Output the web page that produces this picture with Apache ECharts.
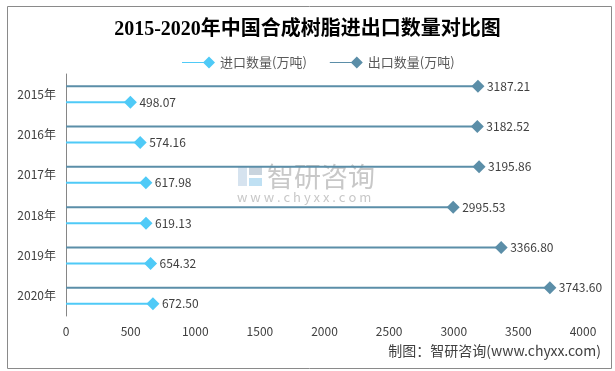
<!DOCTYPE html>
<html><head><meta charset="utf-8">
<script src="https://cdn.jsdelivr.net/npm/echarts@6/dist/echarts.min.js"></script>
<style>html,body{margin:0;padding:0;background:#fff}#c{width:615px;height:371px}</style>
</head><body><div id="c"></div>
<script>
const years = ['2015年','2016年','2017年','2018年','2019年','2020年'];
const importVals = [498.07, 574.16, 617.98, 619.13, 654.32, 672.50];
const exportVals = [3187.21, 3182.52, 3195.86, 2995.53, 3366.80, 3743.60];
const xTicks = {min: 0, max: 4000, interval: 500};
const importName = '进口数量(万吨)';
const exportName = '出口数量(万吨)';

const cImp = '#4fcaf7', cExp = '#5b8ea8';
const txt = '#404040';
const font = "'Noto Sans CJK SC', 'Noto Sans', sans-serif";
const gap = '700%';

const chart = echarts.init(document.getElementById('c'));
const lbl = {show: true, position: 'right', distance: 9, color: txt, fontSize: 12, fontFamily: font,
  formatter: p => Number(p.value).toFixed(2)};
chart.setOption({
  backgroundColor: '#fff',
  animation: false,
  title: {text: '2015-2020年中国合成树脂进出口数量对比图', left: 'center', top: 15,
    textStyle: {fontSize: 20, fontWeight: 'bold', color: '#000', fontFamily: "'Liberation Serif', 'Noto Sans CJK SC', serif"}},
  legend: {data: [importName, exportName], left: 177, top: 51, itemWidth: 33, itemHeight: 12, itemGap: 23,
    icon: 'path://M0,5.5H22V6.5H0Z M27,0L33,6L27,12L21,6Z',
    textStyle: {color: '#595959', fontSize: 13, fontFamily: font}},
  grid: {left: 66, right: 32, top: 74, bottom: 55},
  xAxis: {type: 'value', min: xTicks.min, max: xTicks.max, interval: xTicks.interval,
    axisLine: {show: false}, axisTick: {show: false}, splitLine: {show: false},
    axisLabel: {color: txt, fontSize: 12, margin: 9, fontFamily: font, formatter: v => String(v)}},
  yAxis: {type: 'category', data: years, inverse: true,
    axisLine: {show: true, lineStyle: {color: '#868686', width: 1}}, axisTick: {show: false},
    axisLabel: {color: txt, fontSize: 12, margin: 10, fontFamily: font}},
  graphic: [
    {type: 'rect', left: 5, top: 4, shape: {width: 604, height: 362}, style: {fill: 'none', stroke: '#8a8a8a', lineWidth: 1}, silent: true},
    {type: 'rect', left: 238, top: 167, shape: {width: 9, height: 19}, style: {fill: '#d6e3ef'}, silent: true, z: -1},
    {type: 'rect', left: 249, top: 167, shape: {width: 13, height: 8}, style: {fill: '#c9d4de'}, silent: true, z: -1},
    {type: 'rect', left: 249, top: 178, shape: {width: 13, height: 8}, style: {fill: '#bfe0f3'}, silent: true, z: -1},
    {type: 'text', left: 267, top: 163, style: {text: '智研咨询', fill: '#c8c8c8', fontSize: 27, fontFamily: font}, silent: true, z: -1},
    {type: 'text', left: 237, top: 191, style: {text: 'w w w . c h y x x . c o m', fill: '#c8c8c8', fontSize: 13, fontFamily: font}, silent: true, z: -1},
    {type: 'text', right: 14, top: 344, style: {text: '制图：智研咨询(www.chyxx.com)', fill: txt, fontSize: 14, fontFamily: font}, silent: true}
  ],
  series: [
    {name: exportName, type: 'bar', data: exportVals, barWidth: 2, barGap: gap, itemStyle: {color: cExp}, label: lbl},
    {name: importName, type: 'bar', data: importVals, barWidth: 2, barGap: gap, itemStyle: {color: cImp}, label: lbl},
    {name: exportName, type: 'pictorialBar', data: exportVals, barWidth: 2, barGap: gap, symbol: 'diamond',
      symbolSize: [13, 13], symbolPosition: 'end', symbolOffset: ['50%', 0], itemStyle: {color: cExp}, z: 5},
    {name: importName, type: 'pictorialBar', data: importVals, barWidth: 2, barGap: gap, symbol: 'diamond',
      symbolSize: [13, 13], symbolPosition: 'end', symbolOffset: ['50%', 0], itemStyle: {color: cImp}, z: 5}
  ]
});
</script></body></html>
